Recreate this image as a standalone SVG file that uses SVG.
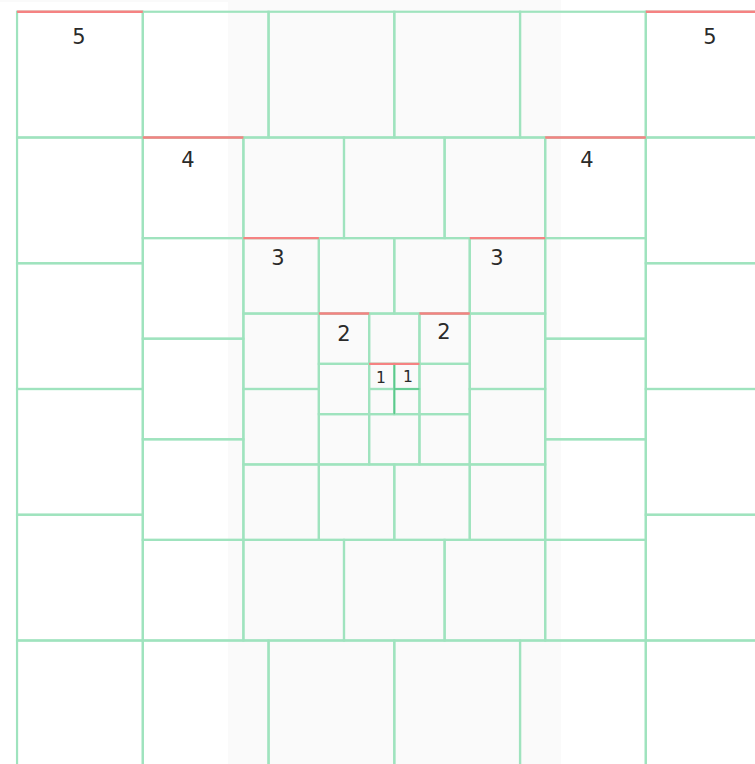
<svg xmlns="http://www.w3.org/2000/svg" width="755" height="764" viewBox="0 0 755 764">
<style>
  .cell { fill: none; stroke: #9fe3be; stroke-width: 2.2; }
  .top { stroke: #f58282; stroke-width: 2.4; fill: none; }
  .core { stroke: #5cc98c; stroke-width: 1.6; fill: none; }
  .lbl { font-family: "DejaVu Sans", sans-serif; font-size: 21px; fill: #2a2a2a; text-anchor: middle; }
  .lbl1 { font-family: "DejaVu Sans", sans-serif; font-size: 15.5px; fill: #2a2a2a; text-anchor: middle; }
</style>
<rect x="0" y="0" width="755" height="764" fill="#ffffff"/>
<rect x="228" y="0" width="333" height="764" fill="#fafafa"/>
<rect x="0" y="0" width="228" height="2" fill="#fafafa"/>

<g id="ring-5">
  <rect class="cell" x="17.05" y="11.75" width="125.75" height="125.75"/>
  <rect class="cell" x="142.8" y="11.75" width="125.75" height="125.75"/>
  <rect class="cell" x="268.55" y="11.75" width="125.75" height="125.75"/>
  <rect class="cell" x="394.3" y="11.75" width="125.75" height="125.75"/>
  <rect class="cell" x="520.05" y="11.75" width="125.75" height="125.75"/>
  <rect class="cell" x="645.8" y="11.75" width="125.75" height="125.75"/>
  <rect class="cell" x="17.05" y="640.5" width="125.75" height="125.75"/>
  <rect class="cell" x="142.8" y="640.5" width="125.75" height="125.75"/>
  <rect class="cell" x="268.55" y="640.5" width="125.75" height="125.75"/>
  <rect class="cell" x="394.3" y="640.5" width="125.75" height="125.75"/>
  <rect class="cell" x="520.05" y="640.5" width="125.75" height="125.75"/>
  <rect class="cell" x="645.8" y="640.5" width="125.75" height="125.75"/>
  <rect class="cell" x="17.05" y="137.5" width="125.75" height="125.75"/>
  <rect class="cell" x="17.05" y="263.25" width="125.75" height="125.75"/>
  <rect class="cell" x="17.05" y="389" width="125.75" height="125.75"/>
  <rect class="cell" x="17.05" y="514.75" width="125.75" height="125.75"/>
  <rect class="cell" x="645.8" y="137.5" width="125.75" height="125.75"/>
  <rect class="cell" x="645.8" y="263.25" width="125.75" height="125.75"/>
  <rect class="cell" x="645.8" y="389" width="125.75" height="125.75"/>
  <rect class="cell" x="645.8" y="514.75" width="125.75" height="125.75"/>
</g>

<g id="ring-4">
  <rect class="cell" x="142.8" y="137.5" width="100.6" height="100.6"/>
  <rect class="cell" x="243.4" y="137.5" width="100.6" height="100.6"/>
  <rect class="cell" x="344" y="137.5" width="100.6" height="100.6"/>
  <rect class="cell" x="444.6" y="137.5" width="100.6" height="100.6"/>
  <rect class="cell" x="545.2" y="137.5" width="100.6" height="100.6"/>
  <rect class="cell" x="142.8" y="539.9" width="100.6" height="100.6"/>
  <rect class="cell" x="243.4" y="539.9" width="100.6" height="100.6"/>
  <rect class="cell" x="344" y="539.9" width="100.6" height="100.6"/>
  <rect class="cell" x="444.6" y="539.9" width="100.6" height="100.6"/>
  <rect class="cell" x="545.2" y="539.9" width="100.6" height="100.6"/>
  <rect class="cell" x="142.8" y="238.1" width="100.6" height="100.6"/>
  <rect class="cell" x="142.8" y="338.7" width="100.6" height="100.6"/>
  <rect class="cell" x="142.8" y="439.3" width="100.6" height="100.6"/>
  <rect class="cell" x="545.2" y="238.1" width="100.6" height="100.6"/>
  <rect class="cell" x="545.2" y="338.7" width="100.6" height="100.6"/>
  <rect class="cell" x="545.2" y="439.3" width="100.6" height="100.6"/>
</g>

<g id="ring-3">
  <rect class="cell" x="243.4" y="238.1" width="75.45" height="75.45"/>
  <rect class="cell" x="318.85" y="238.1" width="75.45" height="75.45"/>
  <rect class="cell" x="394.3" y="238.1" width="75.45" height="75.45"/>
  <rect class="cell" x="469.75" y="238.1" width="75.45" height="75.45"/>
  <rect class="cell" x="243.4" y="464.45" width="75.45" height="75.45"/>
  <rect class="cell" x="318.85" y="464.45" width="75.45" height="75.45"/>
  <rect class="cell" x="394.3" y="464.45" width="75.45" height="75.45"/>
  <rect class="cell" x="469.75" y="464.45" width="75.45" height="75.45"/>
  <rect class="cell" x="243.4" y="313.55" width="75.45" height="75.45"/>
  <rect class="cell" x="243.4" y="389" width="75.45" height="75.45"/>
  <rect class="cell" x="469.75" y="313.55" width="75.45" height="75.45"/>
  <rect class="cell" x="469.75" y="389" width="75.45" height="75.45"/>
</g>

<g id="ring-2">
  <rect class="cell" x="318.85" y="313.55" width="50.3" height="50.3"/>
  <rect class="cell" x="369.15" y="313.55" width="50.3" height="50.3"/>
  <rect class="cell" x="419.45" y="313.55" width="50.3" height="50.3"/>
  <rect class="cell" x="318.85" y="414.15" width="50.3" height="50.3"/>
  <rect class="cell" x="369.15" y="414.15" width="50.3" height="50.3"/>
  <rect class="cell" x="419.45" y="414.15" width="50.3" height="50.3"/>
  <rect class="cell" x="318.85" y="363.85" width="50.3" height="50.3"/>
  <rect class="cell" x="419.45" y="363.85" width="50.3" height="50.3"/>
</g>

<g id="ring-1">
  <rect class="cell" x="369.15" y="363.85" width="25.15" height="25.15"/>
  <rect class="cell" x="394.3" y="363.85" width="25.15" height="25.15"/>
  <rect class="cell" x="369.15" y="389" width="25.15" height="25.15"/>
  <rect class="cell" x="394.3" y="389" width="25.15" height="25.15"/>
  <line class="core" x1="394.3" y1="363.85" x2="394.3" y2="414.15"/>
  <line class="core" x1="394.3" y1="389" x2="419.45" y2="389"/>
</g>

<g id="highlights">
  <line class="top" x1="17.05" y1="11.75" x2="142.8" y2="11.75"/>
  <line class="top" x1="645.8" y1="11.75" x2="771.55" y2="11.75"/>
  <line class="top" x1="142.8" y1="137.5" x2="243.4" y2="137.5"/>
  <line class="top" x1="545.2" y1="137.5" x2="645.8" y2="137.5"/>
  <line class="top" x1="243.4" y1="238.1" x2="318.85" y2="238.1"/>
  <line class="top" x1="469.75" y1="238.1" x2="545.2" y2="238.1"/>
  <line class="top" x1="318.85" y1="313.55" x2="369.15" y2="313.55"/>
  <line class="top" x1="419.45" y1="313.55" x2="469.75" y2="313.55"/>
  <line class="top" x1="369.15" y1="363.85" x2="419.45" y2="363.85"/>
</g>

<g id="labels">
  <text class="lbl" x="79" y="44">5</text>
  <text class="lbl" x="710" y="43.5">5</text>
  <text class="lbl" x="188" y="167">4</text>
  <text class="lbl" x="587" y="166.5">4</text>
  <text class="lbl" x="278" y="265">3</text>
  <text class="lbl" x="497" y="265">3</text>
  <text class="lbl" x="344" y="341">2</text>
  <text class="lbl" x="444" y="339">2</text>
  <text class="lbl1" x="381" y="383">1</text>
  <text class="lbl1" x="408" y="382">1</text>
</g>
</svg>
